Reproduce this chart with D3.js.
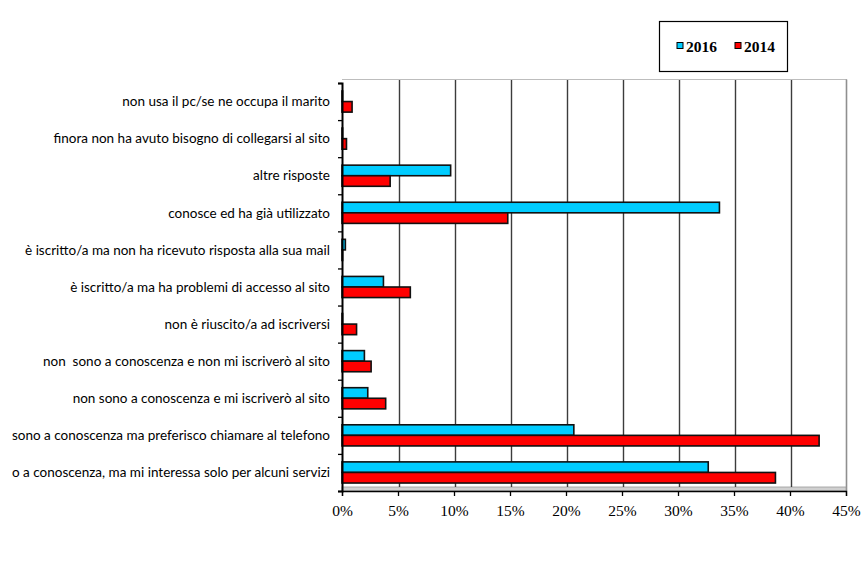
<!DOCTYPE html>
<html>
<head>
<meta charset="utf-8">
<script src="https://cdn.jsdelivr.net/npm/d3@7"></script>
<style>
  html, body { margin: 0; padding: 0; background: #fff; }
  svg { display: block; }
</style>
</head>
<body>
<svg id="chart" width="865" height="577"></svg>
<script>
// Answers, top to bottom as listed on the vertical axis
const categories = [
  "non usa il pc/se ne occupa il marito",
  "finora non ha avuto bisogno di collegarsi al sito",
  "altre risposte",
  "conosce ed ha già utilizzato",
  "è iscritto/a ma non ha ricevuto risposta alla sua mail",
  "è iscritto/a ma ha problemi di accesso al sito",
  "non è riuscito/a ad iscriversi",
  "non  sono a conoscenza e non mi iscriverò al sito",
  "non sono a conoscenza e mi iscriverò al sito",
  "sono a conoscenza ma preferisco chiamare al telefono",
  "o a conoscenza, ma mi interessa solo per alcuni servizi"
];
const seriesNames = ["2016", "2014"];
const values2016 = [0, 0, 9.7, 33.7, 0.3, 3.7, 0, 2.0, 2.3, 20.7, 32.7];
const values2014 = [0.9, 0.4, 4.3, 14.8, 0, 6.1, 1.3, 2.6, 3.9, 42.6, 38.7];
const xTicks = [0, 5, 10, 15, 20, 25, 30, 35, 40, 45];

const colors = { "2016": "#00ccff", "2014": "#ff0000" };

const svg = d3.select("#chart");
const plotLeft = 342, plotRight = 846, plotTop = 83, plotBottom = 491;

const x = d3.scaleLinear().domain([0, 45]).range([plotLeft, plotRight]);
const y = d3.scaleBand().domain(categories).range([plotTop, plotBottom]).paddingInner(0.43).paddingOuter(0.215);
const ySub = d3.scaleBand().domain(seriesNames).range([0, y.bandwidth()]);

// Back wall outline
svg.append("line")
  .attr("x1", plotLeft).attr("x2", plotRight + 1)
  .attr("y1", 79.5).attr("y2", 79.5)
  .attr("stroke", "#bdbdbd").attr("stroke-width", 1.2);
svg.append("line")
  .attr("x1", plotRight + 0.5).attr("x2", plotRight + 0.5)
  .attr("y1", 79.5).attr("y2", plotBottom)
  .attr("stroke", "#8f8f8f").attr("stroke-width", 1.6);

// Floor strip
svg.append("rect")
  .attr("x", plotLeft).attr("y", plotBottom - 4)
  .attr("width", plotRight - plotLeft).attr("height", 4)
  .attr("fill", "#d0d0d0").attr("stroke", "#9a9a9a").attr("stroke-width", 0.8);

// Vertical gridlines
svg.append("g").selectAll("line")
  .data(xTicks.filter(t => t > 0 && t < 45))
  .join("line")
  .attr("x1", d => x(d) + 1.5).attr("x2", d => x(d) + 1.5)
  .attr("y1", 80).attr("y2", plotBottom - 4)
  .attr("stroke", "#3c3c3c").attr("stroke-width", 1.4);

// Bars
const groups = svg.append("g").selectAll("g")
  .data(categories.map((c, i) => ({ c, v: [
    { s: "2016", v: values2016[i] },
    { s: "2014", v: values2014[i] }
  ]})))
  .join("g")
  .attr("transform", d => `translate(0,${y(d.c)})`);

groups.selectAll("rect")
  .data(d => d.v)
  .join("rect")
  .attr("x", x(0))
  .attr("y", d => ySub(d.s))
  .attr("width", d => Math.max(x(d.v) - x(0), 0.6))
  .attr("height", ySub.bandwidth())
  .attr("fill", d => colors[d.s])
  .attr("stroke", "#111")
  .attr("stroke-width", 1.6);

// Bottom axis
const xAxis = d3.axisBottom(x).tickValues(xTicks).tickFormat(d => d + "%").tickSize(5).tickPadding(9);
const gx = svg.append("g").attr("transform", `translate(0,${plotBottom})`).call(xAxis);
gx.select(".domain").attr("stroke", "#000").attr("stroke-width", 1.3);
gx.selectAll(".tick line").attr("stroke", "#000").attr("stroke-width", 1.3);
gx.selectAll("text")
  .attr("font-family", "'Liberation Serif', 'Times New Roman', serif")
  .attr("font-size", 15.5).attr("fill", "#000");

// Left axis with category labels
const yAxis = d3.axisLeft(d3.scaleLinear().domain([0, categories.length]).range([plotTop, plotBottom]))
  .ticks(categories.length).tickSize(4).tickFormat("");
const gy = svg.append("g").attr("transform", `translate(${plotLeft},0)`).call(yAxis);
gy.select(".domain").attr("stroke", "#000").attr("stroke-width", 2);
gy.selectAll(".tick line").attr("stroke", "#000").attr("stroke-width", 1.3);

svg.append("g").selectAll("text")
  .data(categories)
  .join("text")
  .attr("x", 330)
  .attr("y", d => y(d) + y.bandwidth() / 2)
  .attr("dy", "0.35em")
  .attr("text-anchor", "end")
  .attr("font-family", "Lato, 'Open Sans', sans-serif")
  .attr("font-size", 13.5)
  .attr("fill", "#000")
  .style("white-space", "pre")
  .text(d => d);

// Legend
const legend = svg.append("g");
legend.append("rect")
  .attr("x", 659.5).attr("y", 21.5).attr("width", 128).attr("height", 50)
  .attr("fill", "#fff").attr("stroke", "#000").attr("stroke-width", 1.2);
const legendItems = [{ s: "2016", x: 677 }, { s: "2014", x: 735 }];
legendItems.forEach(it => {
  legend.append("rect")
    .attr("x", it.x).attr("y", 42.5).attr("width", 6).attr("height", 6)
    .attr("fill", colors[it.s]).attr("stroke", "#000").attr("stroke-width", 1);
  legend.append("text")
    .attr("x", it.x + 9).attr("y", 51.5)
    .attr("font-family", "'Liberation Serif', 'Times New Roman', serif")
    .attr("font-weight", "bold").attr("font-size", 15.5)
    .text(it.s);
});
</script>
</body>
</html>
